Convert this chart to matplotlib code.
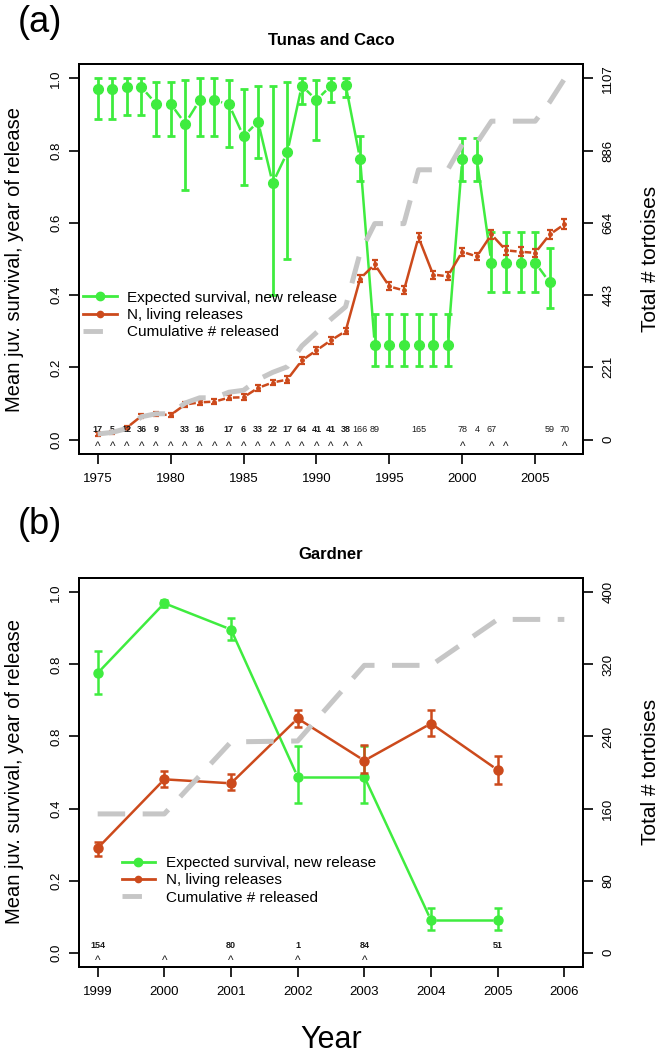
import matplotlib
matplotlib.use("Agg")
import matplotlib.pyplot as plt
from matplotlib.lines import Line2D
import numpy as np

plt.rcParams['font.family'] = ['Liberation Sans', 'DejaVu Sans']

GREEN = '#3fec3f'
ORANGE = '#cc4a1c'
GREY = '#c6c6c6'

# ---------------- (a) Tunas and Caco ----------------
surv_years_a = list(range(1975, 2007))
surv_a = [0.97, 0.97, 0.976, 0.976, 0.93, 0.93, 0.875, 0.94, 0.94, 0.928, 0.84, 0.88,
          0.71, 0.795, 0.98, 0.94, 0.98, 0.983, 0.776, 0.263, 0.263, 0.263, 0.263, 0.263,
          0.263, 0.776, 0.776, 0.49, 0.49, 0.49, 0.49, 0.435]
surv_lo_a = [0.887, 0.887, 0.90, 0.90, 0.84, 0.84, 0.69, 0.84, 0.84, 0.81, 0.706, 0.78,
             0.40, 0.50, 0.93, 0.83, 0.935, 0.95, 0.715, 0.205, 0.205, 0.205, 0.205, 0.205,
             0.205, 0.715, 0.715, 0.41, 0.41, 0.41, 0.41, 0.365]
surv_hi_a = [1.0, 1.0, 1.0, 1.0, 0.99, 0.99, 0.995, 1.0, 1.0, 0.997, 0.97, 0.98,
             0.98, 0.99, 1.0, 0.997, 1.0, 1.0, 0.84, 0.347, 0.347, 0.347, 0.347, 0.347,
             0.347, 0.835, 0.835, 0.576, 0.576, 0.576, 0.576, 0.53]

living_years_a = list(range(1975, 2008))
living_a = [0.015, 0.02, 0.033, 0.065, 0.07, 0.068, 0.097, 0.103, 0.105, 0.116, 0.117, 0.143,
            0.158, 0.166, 0.219, 0.247, 0.275, 0.30, 0.446, 0.485, 0.424, 0.413, 0.56, 0.457,
            0.452, 0.52, 0.507, 0.568, 0.524, 0.52, 0.517, 0.568, 0.596]
living_err_a = [0.005, 0.005, 0.005, 0.006, 0.006, 0.006, 0.007, 0.007, 0.007, 0.007, 0.008, 0.008,
                0.008, 0.009, 0.009, 0.009, 0.009, 0.009, 0.011, 0.012, 0.011, 0.011, 0.012, 0.011,
                0.011, 0.011, 0.011, 0.012, 0.012, 0.012, 0.012, 0.012, 0.014]

release_years_a = list(range(1975, 2008))
released_a = [17, 5, 12, 36, 9, 0, 33, 16, 0, 17, 6, 33, 22, 17, 64, 41, 41, 38, 166, 89,
              0, 0, 165, 0, 0, 78, 4, 67, 0, 0, 0, 59, 70]
right_ticks_a = ['0', '221', '443', '664', '886', '1107']
right_max_a = 1107
caret_years_a = list(range(1975, 1994)) + [2000, 2002, 2003, 2007]
left_ticks_a = ['0.0', '0.2', '0.4', '0.6', '0.8', '1.0']

# ---------------- (b) Gardner ----------------
years_b = list(range(1999, 2006))
surv_b = [0.776, 0.97, 0.897, 0.488, 0.488, 0.09, 0.09]
surv_lo_b = [0.717, 0.96, 0.867, 0.415, 0.415, 0.062, 0.062]
surv_hi_b = [0.837, 0.98, 0.928, 0.574, 0.574, 0.125, 0.125]
living_b = [0.29, 0.481, 0.47, 0.65, 0.533, 0.636, 0.507]
living_lo_b = [0.269, 0.461, 0.452, 0.627, 0.498, 0.60, 0.468]
living_hi_b = [0.308, 0.505, 0.497, 0.673, 0.576, 0.673, 0.546]
release_years_b = list(range(1999, 2007))
released_b = [154, 0, 80, 1, 84, 0, 51, 0]
right_ticks_b = ['0', '80', '160', '240', '320', '400']
right_max_b = 400
caret_years_b = [1999, 2000, 2001, 2002, 2003]
left_ticks_b = ['0.0', '0.2', '0.4', '0.8', '0.8', '1.0']

W, H = 664, 1059
fig = plt.figure(figsize=(W / 100, H / 100), dpi=100)


def px_axes(l, t, r, b):
    return fig.add_axes([l / W, 1 - b / H, (r - l) / W, (b - t) / H])


def gapped_line(ax, xs, ys, gap, **kw):
    # R type="b": segments leave a gap round each point
    pts = ax.transData.transform(np.column_stack([xs, ys]))
    inv = ax.transData.inverted()
    for p0, p1 in zip(pts[:-1], pts[1:]):
        d = p1 - p0
        L = np.hypot(d[0], d[1])
        if L <= 2 * gap + 1:
            continue
        u = d / L
        a = inv.transform(p0 + u * gap)
        b = inv.transform(p1 - u * gap)
        ax.plot([a[0], b[0]], [a[1], b[1]], solid_capstyle='butt', **kw)


def setup(ax, xlim, xticks, left_labels, rmax, rlabels):
    ax.set_xlim(*xlim)
    ax.set_ylim(-0.04, 1.04)
    ax.set_xticks(xticks)
    ax.set_xticklabels([str(t) for t in xticks])
    ax.set_yticks([0, 0.2, 0.4, 0.6, 0.8, 1.0])
    ax.set_yticklabels(left_labels, rotation=90, va='center')
    for s in ax.spines.values():
        s.set_linewidth(1.4)
    ax.tick_params(direction='out', length=7, width=1.2, labelsize=9.5, pad=5)
    ax.tick_params(axis='x', pad=7)
    ax2 = ax.twinx()
    ax2.set_ylim(-0.04 * rmax, 1.04 * rmax)
    ax2.set_yticks(np.linspace(0, rmax, 6))
    ax2.set_yticklabels(rlabels, rotation=90, va='center')
    ax2.tick_params(direction='out', length=7, width=1.2, labelsize=9.5, pad=7)
    for s in ax2.spines.values():
        s.set_linewidth(1.4)
    return ax2


def legend(ax, x, y):
    handles = [Line2D([], [], color=GREEN, lw=2, marker='o', ms=6),
               Line2D([], [], color=ORANGE, lw=2, marker='o', ms=4.5),
               Line2D([], [], color=GREY, lw=3.5, dashes=(4, 3))]
    labels = ['Expected survival, new release', 'N, living releases', 'Cumulative # released']
    ax.legend(handles, labels, loc='upper left', bbox_to_anchor=(x, y),
              bbox_transform=ax.transData, frameon=False, fontsize=11,
              borderpad=0, borderaxespad=0, handlelength=2.2, handletextpad=0.7,
              labelspacing=0.22)


def counts(ax, years, released, carets, y_num, y_caret, bold_until):
    for yr, n in zip(years, released):
        if n > 0:
            ax.text(yr, y_num, str(n), ha='center', va='center', fontsize=6.5,
                    fontweight='bold' if yr < bold_until else 'normal', color='#1a1a1a')
    for yr in carets:
        ax.text(yr, y_caret, '^', ha='center', va='center', fontsize=8.5, color='#1a1a1a')


# ---------------- panel (a) ----------------
ax = px_axes(79, 64, 583, 454)
ax2 = setup(ax, (1973.72, 2008.28), list(range(1975, 2006, 5)), left_ticks_a,
            right_max_a, right_ticks_a)
ax2.plot(release_years_a, np.cumsum(released_a), color=GREY, lw=3.6, dashes=(5.5, 3.5))
sa = np.array(surv_a)
ax.errorbar(surv_years_a, sa, yerr=[sa - np.array(surv_lo_a), np.array(surv_hi_a) - sa],
            fmt='none', ecolor=GREEN, elinewidth=2, capsize=3, capthick=2)
ax.plot(surv_years_a, sa, 'o', color=GREEN, ms=7)
gapped_line(ax, surv_years_a, sa, 7, color=GREEN, lw=1.8)
ax.errorbar(living_years_a, living_a, yerr=living_err_a, fmt='none', ecolor=ORANGE,
            elinewidth=1.6, capsize=2.4, capthick=1.6)
ax.plot(living_years_a, living_a, 'o', color=ORANGE, ms=2.5)
gapped_line(ax, living_years_a, living_a, 4, color=ORANGE, lw=1.8)
counts(ax, release_years_a, released_a, caret_years_a, 0.028, -0.02, 1993)
legend(ax2, 1974.0, 0.412 * right_max_a)
ax.set_title('Tunas and Caco', fontsize=12, fontweight='bold', pad=14)
fig.text(15 / W, 1 - 259 / H, 'Mean juv. survival, year of release', rotation=90,
         ha='center', va='center', fontsize=14.5)
fig.text(650 / W, 1 - 259 / H, 'Total # tortoises', rotation=90,
         ha='center', va='center', fontsize=15)
fig.text(18 / W, 1 - 22 / H, '(a)', ha='left', va='center', fontsize=26)

# ---------------- panel (b) ----------------
bx = px_axes(79, 578, 583, 967)
bx2 = setup(bx, (1998.72, 2006.28), list(range(1999, 2007)), left_ticks_b,
            right_max_b, right_ticks_b)
bx2.plot(release_years_b, np.cumsum(released_b), color=GREY, lw=3.6, dashes=(5.5, 3.5))
sb = np.array(surv_b)
bx.errorbar(years_b, sb, yerr=[sb - np.array(surv_lo_b), np.array(surv_hi_b) - sb],
            fmt='none', ecolor=GREEN, elinewidth=1.8, capsize=3, capthick=1.8)
bx.plot(years_b, sb, 'o', color=GREEN, ms=6.5)
gapped_line(bx, years_b, sb, 5, color=GREEN, lw=1.8)
lb = np.array(living_b)
bx.errorbar(years_b, lb, yerr=[lb - np.array(living_lo_b), np.array(living_hi_b) - lb],
            fmt='none', ecolor=ORANGE, elinewidth=1.8, capsize=3, capthick=1.8)
bx.plot(years_b, lb, 'o', color=ORANGE, ms=6.5)
gapped_line(bx, years_b, lb, 5, color=ORANGE, lw=1.8)
counts(bx, release_years_b, released_b, caret_years_b, 0.02, -0.022, 2100)
legend(bx2, 1999.36, 0.268 * right_max_b)
bx.set_title('Gardner', fontsize=12, fontweight='bold', pad=14)
fig.text(15 / W, 1 - 772 / H, 'Mean juv. survival, year of release', rotation=90,
         ha='center', va='center', fontsize=14.5)
fig.text(650 / W, 1 - 772 / H, 'Total # tortoises', rotation=90,
         ha='center', va='center', fontsize=15)
fig.text(18 / W, 1 - 525 / H, '(b)', ha='left', va='center', fontsize=26)
fig.text(331 / W, 1 - 1040 / H, 'Year', ha='center', va='center', fontsize=22)

fig.savefig('out.png', dpi=100)
